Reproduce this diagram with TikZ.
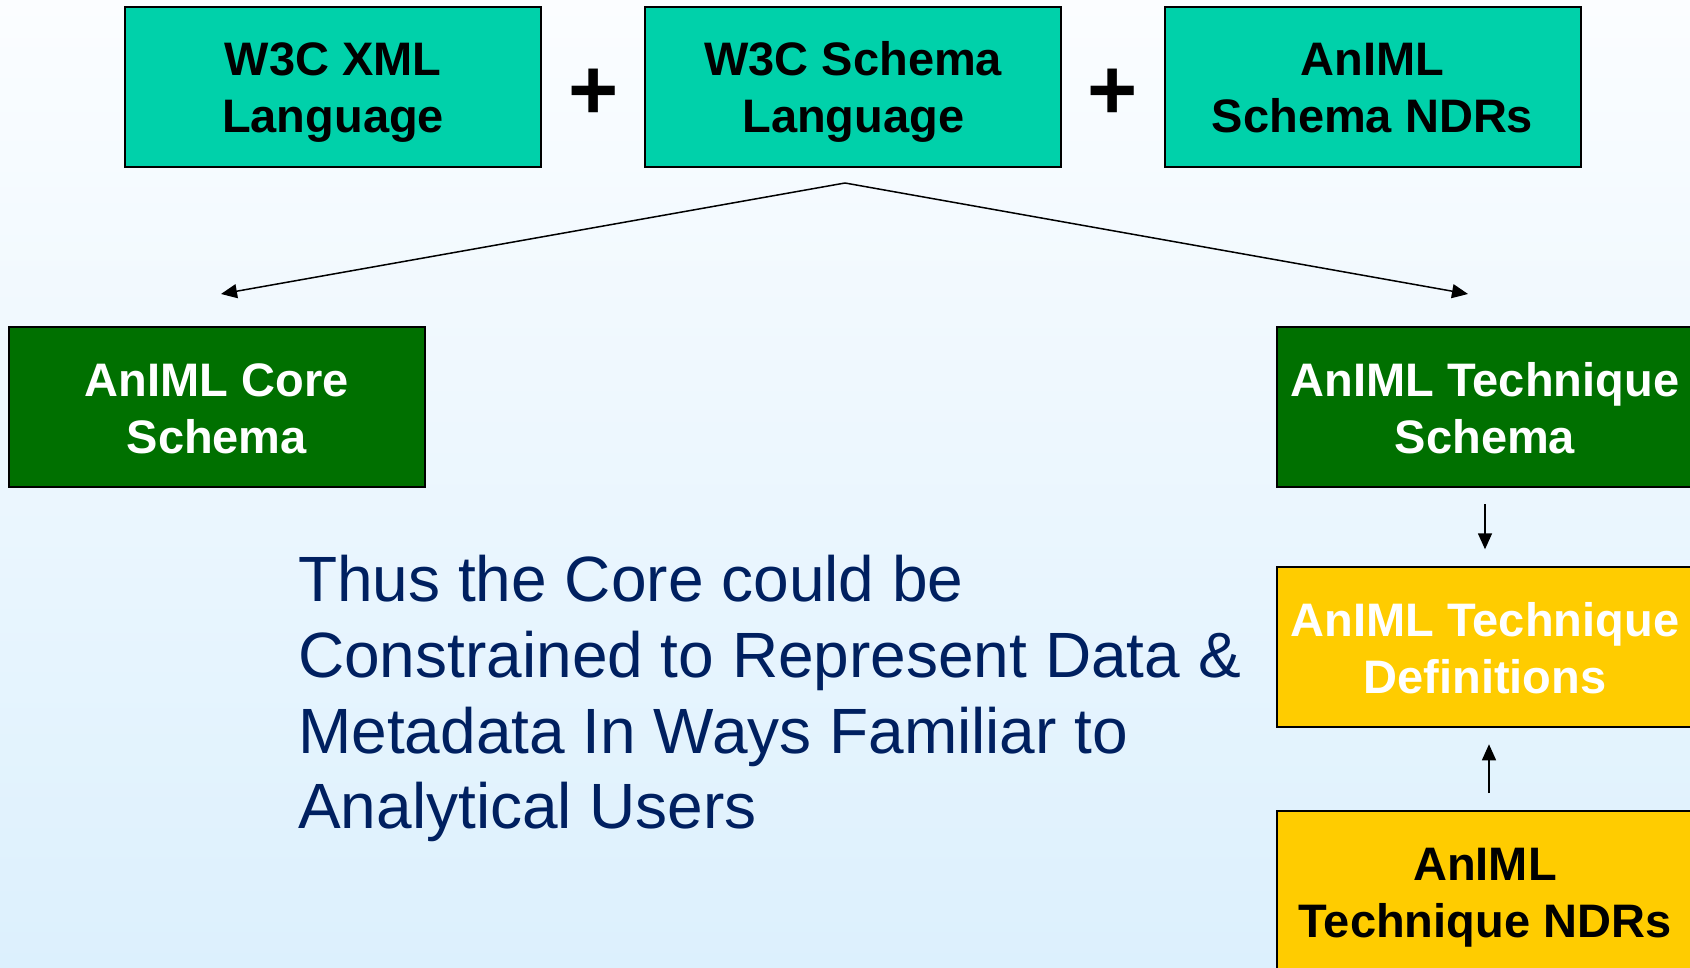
\documentclass[tikz,border=0pt]{standalone}
\usepackage{fontspec}
\setmainfont{Liberation Sans}
\usetikzlibrary{arrows.meta}
\definecolor{tealbox}{RGB}{0,209,170}
\definecolor{greenbox}{RGB}{0,112,0}
\definecolor{yellowbox}{RGB}{255,204,0}
\definecolor{navytext}{RGB}{0,32,96}
\definecolor{bgtop}{RGB}{251,253,255}
\definecolor{bgbottom}{RGB}{220,240,253}
% line strut with the font's full ascent and descent, so every line box is the same
\newcommand{\lnstrut}{\rule[-0.212em]{0pt}{1.117em}}
% same strut with a little more headroom, setting the lines slightly lower
\newcommand{\lnstrutlow}{\rule[-0.212em]{0pt}{1.217em}}
\tikzset{
  box/.style={draw=black, line width=2pt, minimum width=416pt, minimum height=160pt,
    inner sep=0pt, align=center, font=\bfseries\fontsize{47}{57}\selectfont},
  stdbox/.style={box, fill=tealbox, text=black},
  schemabox/.style={box, fill=greenbox, text=white},
  defbox/.style={box, fill=yellowbox, text=white},
  ndrbox/.style={box, fill=yellowbox, text=black},
  plussign/.style={font=\bfseries\fontsize{86}{86}\selectfont, inner sep=0pt},
  link/.style={line width=1.5pt, -{Triangle[length=16pt,width=14pt]}}
}
\begin{document}
\begin{tikzpicture}[x=1pt,y=-1pt]
  % page and background
  \useasboundingbox (0,0) rectangle (1690,968);
  \shade[top color=bgtop, bottom color=bgbottom] (0,0) rectangle (1690,968);

  % standards row
  \node[stdbox] (xml)    at (333,87.3)    {\lnstrut W3C XML\\\lnstrut Language};
  \node[plussign] (plus1) at (593.5,94) {+};
  \node[stdbox] (xsd)    at (853.3,87.3)  {\lnstrut W3C Schema\\\lnstrut Language};
  \node[plussign] (plus2) at (1113,94) {+};
  \node[stdbox] (ndr)    at (1372.5,87.3) {\lnstrut AnIML\\\lnstrut Schema NDRs};

  % schemas
  \node[schemabox] (core) at (216.8,406.6) {\lnstrutlow AnIML Core\\\lnstrut Schema};
  \node[schemabox] (tech) at (1485,406.6)  {\lnstrutlow AnIML Technique\\\lnstrut Schema};

  % technique definitions and their rules
  \node[defbox] (defs)    at (1485,646.8) {\lnstrutlow AnIML Technique\\\lnstrut Definitions};
  \node[ndrbox] (techndr) at (1485,890.5) {\lnstrutlow AnIML\\\lnstrut Technique NDRs};

  % branching from the schema language
  \coordinate (apex)  at (845,183);
  \coordinate (leftend)  at (221,294);
  \coordinate (rightend) at (1468,294);
  \draw[link] (apex) -- (leftend);
  \draw[link] (apex) -- (rightend);

  % vertical links in the technique column
  \draw[link, shorten <=16.5pt, shorten >=16.5pt] (tech.south) -- (defs.north);
  \draw[link, shorten <=16.5pt, shorten >=16.5pt]
    ([xshift=4pt]techndr.north) -- ([xshift=4pt]defs.south);

  % explanatory text
  \node[anchor=north west, inner sep=0pt, align=left, text=navytext,
        font=\fontsize{64}{75.8}\selectfont] (note) at (298,555)
    {Thus the Core could be\\
     Constrained to Represent Data \&\\
     Metadata In Ways Familiar to\\
     Analytical Users};
\end{tikzpicture}
\end{document}
